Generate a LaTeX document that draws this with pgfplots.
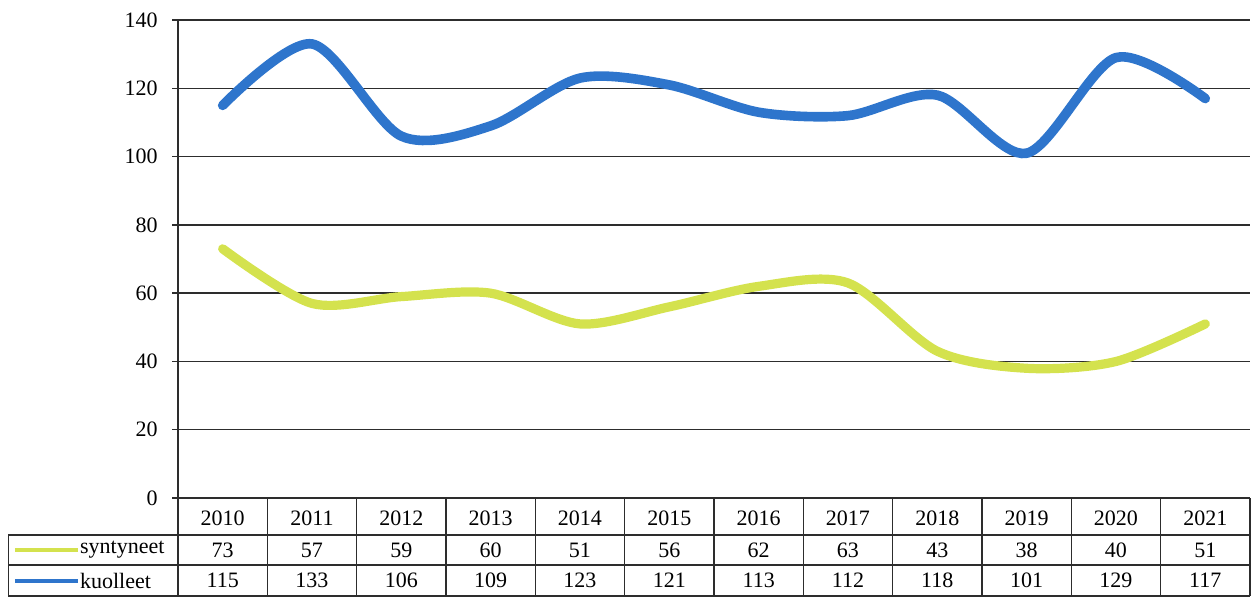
\documentclass[border=0pt]{standalone}
\usepackage{fontspec}
\setmainfont{Liberation Serif}
\usepackage{pgfplots}
\usepackage{pgfplotstable}
\pgfplotsset{compat=1.18}

\definecolor{kuoblue}{RGB}{46,117,204}
\definecolor{synyellow}{RGB}{212,226,78}
\definecolor{gridgray}{RGB}{45,45,45}

% vuosi (0 = 2010), syntyneet, kuolleet
\pgfplotstableread{
x  syn kuo
0  73  115
1  57  133
2  59  106
3  60  109
4  51  123
5  56  121
6  62  113
7  63  112
8  43  118
9  38  101
10 40  129
11 51  117
}\vaestodata

\begin{document}
\fontsize{11}{13}\selectfont
\begin{tikzpicture}
\begin{axis}[
  scale only axis,
  width=536pt, height=239pt,
  xmin=-0.5, xmax=11.5,
  ymin=0, ymax=140,
  axis lines=left,
  axis line style={-, draw=gridgray, line width=0.7pt},
  x axis line style={draw=none},
  ytick distance=20,
  ymajorgrids,
  grid style={gridgray, line width=0.7pt},
  tick style={gridgray, line width=0.7pt},
  major tick length=3pt,
  tick align=outside,
  xtick={0,...,11},
  xticklabels={2010,2011,2012,2013,2014,2015,2016,2017,2018,2019,2020,2021},
  x tick style={draw=none},
  xticklabel style={anchor=center, yshift=-6.9pt},
  yticklabel style={xshift=-3.3pt},
  tick label style={font=\fontsize{11}{13}\selectfont},
  /pgf/number format/assume math mode=true,
  clip=false,
]
  \addplot[synyellow, line width=4.6pt, smooth, line cap=round]
    table[x=x, y=syn] {\vaestodata};
  \addplot[kuoblue, line width=4.8pt, smooth, line cap=round]
    table[x=x, y=kuo] {\vaestodata};

  % taulukon arvot
  \addplot[draw=none, mark=none, nodes near coords, point meta=explicit,
    every node near coord/.append style={anchor=center, inner sep=0pt,
      font=\fontsize{11}{13}\selectfont}]
    table[x=x, y expr=-15.23, meta=syn] {\vaestodata};
  \addplot[draw=none, mark=none, nodes near coords, point meta=explicit,
    every node near coord/.append style={anchor=center, inner sep=0pt,
      font=\fontsize{11}{13}\selectfont}]
    table[x=x, y expr=-24.17, meta=kuo] {\vaestodata};

  % taulukon viivat
  \pgfplotsinvokeforeach{-0.5,0.5,...,11.5}{
    \draw[gridgray, line width=0.7pt] (axis cs:#1,0) -- (axis cs:#1,-28.7);
  }
  \draw[gridgray, line width=0.7pt] (axis cs:-2.40,-10.84) -- (axis cs:11.5,-10.84);
  \draw[gridgray, line width=0.7pt] (axis cs:-2.40,-19.6) -- (axis cs:11.5,-19.6);
  \draw[gridgray, line width=0.7pt] (axis cs:-2.40,-28.7) -- (axis cs:11.5,-28.7);
  \draw[gridgray, line width=0.7pt] (axis cs:-2.40,-10.84) -- (axis cs:-2.40,-28.7);

  % selitteet
  \draw[synyellow, line width=2pt] (axis cs:-2.325,-15.23) -- (axis cs:-1.62,-15.23);
  \draw[kuoblue, line width=2pt] (axis cs:-2.325,-24.17) -- (axis cs:-1.62,-24.17);
  \node[anchor=west, inner sep=0pt] at (axis cs:-1.60,-15.23) {syntyneet};
  \node[anchor=west, inner sep=0pt] at (axis cs:-1.60,-24.17) {kuolleet};

  \path (axis cs:-2.4926,-29.29) rectangle (axis cs:11.545,145.87);
\end{axis}
\end{tikzpicture}
\end{document}
